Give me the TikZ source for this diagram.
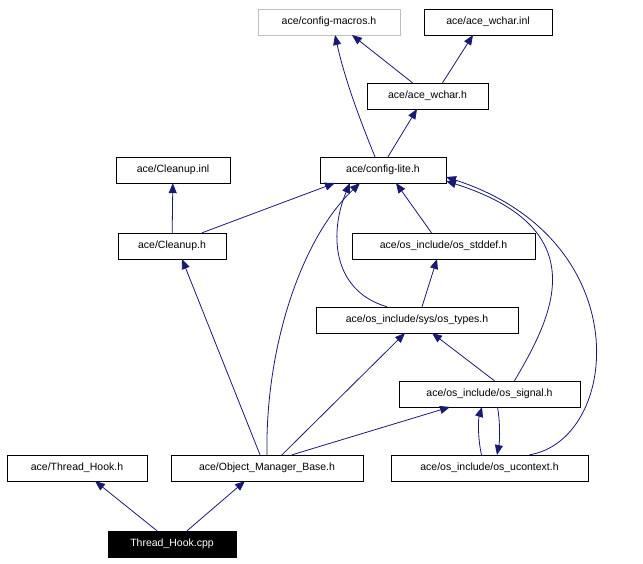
\documentclass[tikz,border=0pt]{standalone}
\usepackage{fontspec}
\setmainfont{Liberation Sans}
\usetikzlibrary{arrows.meta}
\definecolor{edge}{RGB}{25,25,112}
\begin{document}
\begin{tikzpicture}[x=1pt,y=-1pt,
 box/.style={draw=black,fill=white,inner sep=0pt,minimum height=26pt,font=\fontsize{10.5}{12}\selectfont,text=black},
 e/.style={draw=edge,line width=0.8pt,-{Triangle[length=10pt,width=8pt]},fill=none}]
\useasboundingbox (0,0) rectangle (643,563);
\node[box,draw={rgb,255:red,191;green,191;blue,191},minimum width=142pt] (cm) at (329,22) {ace/config-macros.h};
\node[box,minimum width=128pt] (wi) at (488,22) {ace/ace\_wchar.inl};
\node[box,minimum width=121pt] (wh) at (427.5,96) {ace/ace\_wchar.h};
\node[box,minimum width=126pt] (cl) at (383,170) {ace/config-lite.h};
\node[box,minimum width=114pt] (ci) at (173,170) {ace/Cleanup.inl};
\node[box,minimum width=108pt] (ch) at (172,246) {ace/Cleanup.h};
\node[box,minimum width=183pt] (sd) at (443.5,246) {ace/os\_include/os\_stddef.h};
\node[box,minimum width=202pt] (ot) at (417,320) {ace/os\_include/sys/os\_types.h};
\node[box,minimum width=181pt] (sg) at (489.5,394) {ace/os\_include/os\_signal.h};
\node[box,minimum width=140pt] (th) at (77,468) {ace/Thread\_Hook.h};
\node[box,minimum width=192pt] (om) at (267,468) {ace/Object\_Manager\_Base.h};
\node[box,minimum width=197pt] (uc) at (489.5,468) {ace/os\_include/os\_ucontext.h};
\node[box,fill=black,text=white,minimum width=128pt] (tc) at (172,544) {Thread\_Hook.cpp};

\draw[e] (wh.north) ++(-15,0) -- (352,35);
\draw[e] (wh.north) ++(15,0) -- (473,35);
\draw[e] (cl.north) ++(-8,0) .. controls (360,120) and (345,80) .. (335,35);
\draw[e] (cl.north) ++(5,0) -- (417,109);
\draw[e] (ch) -- (ci);
\draw[e] (ch.north) ++(30,0) -- (335,183);
\draw[e] (sd.north) ++(-12,0) -- (396,183);
\draw[e] (ot.north) ++(5,0) -- (437,259);
\draw[e] (ot.north) ++(-30,0) .. controls (330,290) and (330,230) .. (350,183);
\draw[e] (om.south) ++(0,-26) .. controls (265,350) and (300,240) .. (360,183);
\draw[e] (om.north) ++(-7,0) -- (182,259);
\draw[e] (om.north) ++(15,0) -- (405,333);
\draw[e] (om.north) ++(25,0) -- (450,407);
\draw[e] (sg.north) ++(5,0) -- (432,333);
\draw[e] (sg.north) ++(25,0) .. controls (550,320) and (600,230) .. (446,181);
\draw[e] (uc.north) ++(-8,0) .. controls (478,440) and (478,420) .. (482,407);
\draw[e] (sg.south) ++(8,0) .. controls (500,420) and (500,440) .. (497,455);
\draw[e] (uc.north) ++(40,0) .. controls (620,440) and (640,240) .. (446,177);
\draw[e] (tc.north) ++(-15,0) -- (95,481);
\draw[e] (tc.north) ++(15,0) -- (245,481);
\end{tikzpicture}
\end{document}
